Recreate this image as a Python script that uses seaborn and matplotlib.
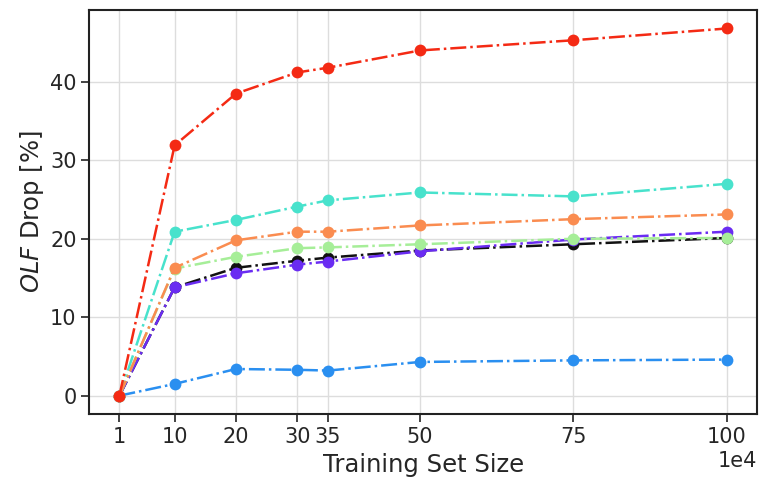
import numpy as np
import pandas as pd
import matplotlib
matplotlib.use("Agg")
import matplotlib.pyplot as plt
import seaborn as sns

# Training set sizes (in units of 1e4)
sizes = [1, 10, 20, 30, 35, 50, 75, 100]

series_black = [0, 13.8, 16.3, 17.2, 17.6, 18.5, 19.3, 20.1]
series_purple = [0, 13.8, 15.6, 16.7, 17.1, 18.4, 19.9, 20.9]
series_blue = [0, 1.5, 3.4, 3.3, 3.2, 4.3, 4.5, 4.6]
series_turquoise = [0, 20.9, 22.4, 24.1, 24.9, 25.9, 25.4, 27.0]
series_green = [0, 16.2, 17.7, 18.8, 18.9, 19.3, 20.0, 20.1]
series_orange = [0, 16.3, 19.8, 20.9, 20.9, 21.7, 22.5, 23.1]
series_red = [0, 31.9, 38.5, 41.2, 41.8, 44.0, 45.3, 46.8]

sns.set_theme(style="whitegrid")
plt.rcParams["font.family"] = ["DejaVu Sans"]

series = [
    (series_black, "#111111"),
    (series_purple, "#6a2cf2"),
    (series_blue, "#2a8ff0"),
    (series_turquoise, "#48e2cc"),
    (series_green, "#a6ee98"),
    (series_orange, "#fa8c50"),
    (series_red, "#f42a14"),
]

fig = plt.figure(figsize=(7.61, 4.82), dpi=100)
ax = fig.add_axes([0.117, 0.141, 0.878, 0.838])

x = np.array(sizes) * 1e4
for vals, c in series:
    df = pd.DataFrame({"x": x, "y": vals})
    sns.lineplot(data=df, x="x", y="y", ax=ax, color=c, linestyle="-.",
                 marker="o", markersize=8.5, markeredgecolor=c,
                 markeredgewidth=0, linewidth=1.8)

ax.set_xticks(x)
ax.ticklabel_format(axis="x", style="sci", scilimits=(4, 4))
ax.set_yticks([0, 10, 20, 30, 40])
ax.set_xlabel("Training Set Size", fontsize=17.5, labelpad=5)
ax.set_ylabel(r"$OLF$ Drop [%]", fontsize=17.5, labelpad=3)
ax.tick_params(axis="both", labelsize=15, length=6, width=1.2,
               color="#222222", bottom=True, left=True, pad=3)
ax.xaxis.get_offset_text().set_fontsize(15)
for s in ax.spines.values():
    s.set_color("#222222")
    s.set_linewidth(1.5)
ax.grid(True, color="#dddddd", linewidth=1.0)

fig.savefig("out.png", dpi=100)
